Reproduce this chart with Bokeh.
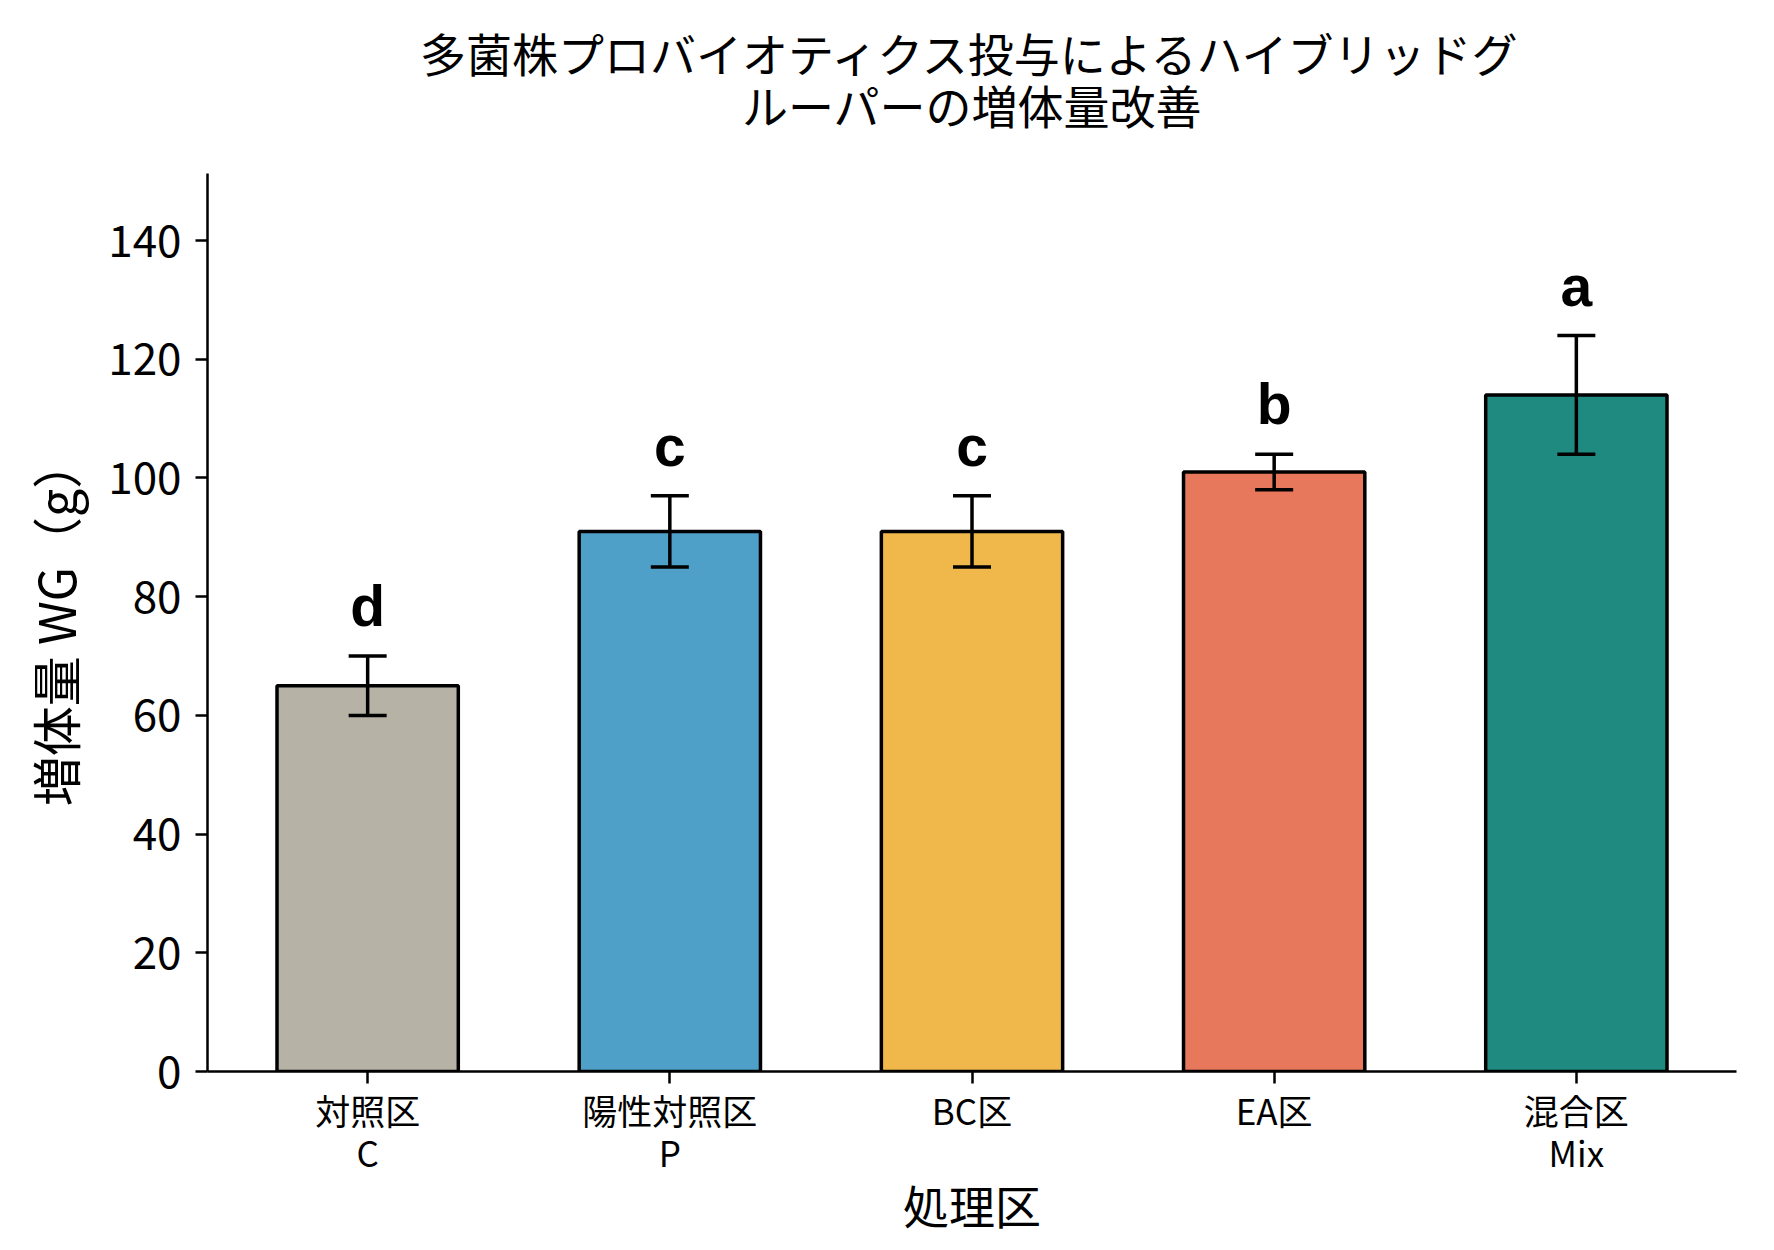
from bokeh.plotting import figure
from bokeh.models import ColumnDataSource, Range1d, FixedTicker, Whisker, TeeHead, Title
from bokeh.core.properties import value
from bokeh.embed import file_html
from bokeh.resources import INLINE

# ---- data ----
categories = ["対照区\nC", "陽性対照区\nP", "BC区", "EA区", "混合区\nMix"]
means = [65, 91, 91, 101, 114]
errors = [5, 6, 6, 3, 10]
letters = ["d", "c", "c", "b", "a"]
colors = ["#b7b2a6", "#4ea0c9", "#f0b84b", "#e8785b", "#1f8a80"]
y_ticks = [0, 20, 40, 60, 80, 100, 120, 140]

title_lines = ["多菌株プロバイオティクス投与によるハイブリッドグ", "ルーパーの増体量改善"]
x_label = "処理区"
y_label = "増体量 WG（g）"

JP = "Noto Sans CJK JP"

xs = list(range(len(categories)))
upper = [m + e for m, e in zip(means, errors)]
lower = [m - e for m, e in zip(means, errors)]
src = ColumnDataSource(dict(x=xs, top=means, upper=upper, lower=lower,
                            color=colors, letter=letters,
                            ly=[u + 8.4 for u in upper]))

p = figure(frame_width=1529, frame_height=898,
           x_range=Range1d(-0.53, 4.53), y_range=Range1d(0, 151.3),
           output_backend="svg", toolbar_location=None, title=None,
           min_border_left=207, min_border_right=30,
           min_border_top=173, min_border_bottom=150,
           background_fill_color="white", border_fill_color="white")
p.outline_line_color = None
p.xgrid.visible = False
p.ygrid.visible = False

# title lines: added nearest-first; negative standoff pulls line 1 closer
t2 = Title(text=title_lines[1], align="center", text_font=JP, text_font_size="46px",
           text_font_style="normal", text_color="black", standoff=74)
t1 = Title(text=title_lines[0], align="center", text_font=JP, text_font_size="46px",
           text_font_style="normal", text_color="black", standoff=-106)
p.add_layout(t2, "above")
p.add_layout(t1, "above")

p.vbar(x="x", top="top", width=0.6, source=src, fill_color="color",
       line_color="black", line_width=3.5)

wh = Whisker(base="x", upper="upper", lower="lower", source=src,
             line_color="black", line_width=3.5, level="overlay",
             upper_head=TeeHead(size=38, line_color="black", line_width=3.5),
             lower_head=TeeHead(size=38, line_color="black", line_width=3.5))
p.add_layout(wh)

p.text(x="x", y="ly", text="letter", source=src,
       text_font=value("Liberation Sans"), text_font_style="bold",
       text_font_size="57px", text_align="center",
       text_baseline="alphabetic", text_color="black")

# axes
p.xaxis.ticker = FixedTicker(ticks=xs)
p.xaxis.major_label_overrides = {i: c for i, c in zip(xs, categories)}
p.yaxis.ticker = FixedTicker(ticks=y_ticks)
for ax in (p.xaxis[0], p.yaxis[0]):
    ax.axis_line_width = 2.5
    ax.axis_line_color = "black"
    ax.major_tick_line_width = 2.5
    ax.major_tick_line_color = "black"
    ax.major_tick_out = 12
    ax.major_tick_in = 0
    ax.minor_tick_out = 0
    ax.minor_tick_in = 0
    ax.major_label_text_font = JP
    ax.major_label_text_color = "black"
    ax.axis_label_text_font = JP
    ax.axis_label_text_font_style = "normal"
    ax.axis_label_text_color = "black"

p.xaxis.major_label_text_font_size = "35px"
p.xaxis.major_label_text_line_height = 0.83
p.xaxis.major_label_standoff = 0
p.xaxis.axis_label = x_label
p.xaxis.axis_label_text_font_size = "46px"
p.xaxis.axis_label_standoff = -9

p.yaxis.major_label_text_font_size = "44px"
p.yaxis.major_label_standoff = 14
p.yaxis.axis_label = y_label
p.yaxis.axis_label_text_font_size = "50px"
p.yaxis.axis_label_standoff = 15

open("out.html", "w").write(file_html(p, INLINE))
